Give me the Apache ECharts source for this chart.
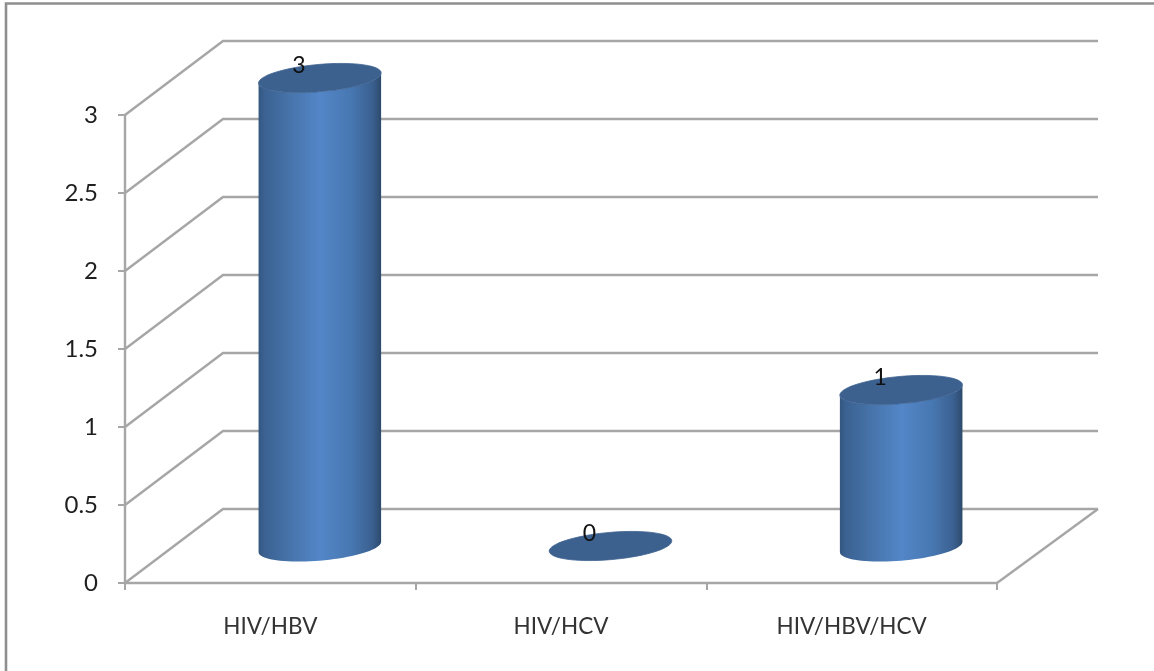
<!DOCTYPE html>
<html>
<head>
<meta charset="utf-8">
<style>
html,body{margin:0;padding:0;background:#fff}
#chart{width:1154px;height:671px}
</style>
<script src="https://cdn.jsdelivr.net/npm/echarts@6/dist/echarts.min.js"></script>
</head>
<body>
<div id="chart"></div>
<script>
// Co-infection counts shown as a pseudo-3D cylinder chart.
const categories = ['HIV/HBV', 'HIV/HCV', 'HIV/HBV/HCV'];
const counts = [3, 0, 1];
const valueTicks = [0, 0.5, 1, 1.5, 2, 2.5, 3];

// Receding depth of the chart box, in pixels.
const DEPTH_X = 98;
const DEPTH_Y = -74;
const BACK_RIGHT_EXTRA = 3;
const ELLIPSE_RX = 61.5;
const ELLIPSE_RY = 13.6;
const TILT = -5 * Math.PI / 180;

const GRID_COLOR = '#a6a6a6';
const FONT = 'Lato, "Open Sans", sans-serif';

// Point on a tilted ellipse around (cx, cy).
function ellipsePoint(cx, cy, t) {
  const x = ELLIPSE_RX * Math.cos(t);
  const y = ELLIPSE_RY * Math.sin(t);
  return [cx + x * Math.cos(TILT) - y * Math.sin(TILT),
          cy + x * Math.sin(TILT) + y * Math.cos(TILT)];
}

function ellipseArc(cx, cy, from, to, steps) {
  const pts = [];
  for (let i = 0; i <= steps; i++) {
    pts.push(ellipsePoint(cx, cy, from + (to - from) * i / steps));
  }
  return pts;
}

function renderWall(params, api) {
  const y = api.coord([0, api.value(0)])[1];
  const left = params.coordSys.x;
  const right = left + params.coordSys.width;
  const backRight = right + DEPTH_X + BACK_RIGHT_EXTRA;
  const style = { stroke: GRID_COLOR, lineWidth: 2.4, fill: null };
  const children = [{
    type: 'polyline',
    shape: { points: [[left, y], [left + DEPTH_X, y + DEPTH_Y], [backRight, y + DEPTH_Y]] },
    style
  }];
  // The floor closes along its right-hand edge.
  if (api.value(0) === 0) {
    children.push({
      type: 'line',
      shape: { x1: right, y1: y, x2: backRight, y2: y + DEPTH_Y },
      style
    });
  }
  return { type: 'group', children };
}

function renderCylinder(params, api) {
  const idx = api.value(0);
  const val = api.value(1);
  const top = api.coord([idx, val]);
  const base = api.coord([idx, 0]);
  const cx = top[0] + DEPTH_X / 2 + 0.5;
  const topY = top[1] + DEPTH_Y / 2;
  const baseY = base[1] + DEPTH_Y / 2 + 1;
  const children = [];
  if (val > 0) {
    // Tangent points of the silhouette on the left and right of the ellipse.
    const t0 = Math.atan2(-ELLIPSE_RY * Math.sin(TILT), ELLIPSE_RX * Math.cos(TILT));
    const upper = ellipseArc(cx, topY, t0, t0 + Math.PI, 40);
    const lower = ellipseArc(cx, baseY, t0 + Math.PI, t0, 40);
    children.push({
      type: 'polygon',
      shape: { points: upper.concat(lower) },
      style: {
        fill: new echarts.graphic.LinearGradient(0, 0, 1, 0, [
          { offset: 0, color: '#34577f' },
          { offset: 0.05, color: '#3b6292' },
          { offset: 0.25, color: '#4673a9' },
          { offset: 0.5, color: '#5386c8' },
          { offset: 0.75, color: '#4878b2' },
          { offset: 0.93, color: '#3a6090' },
          { offset: 1, color: '#2d4a6c' }
        ])
      }
    });
  }
  children.push({
    type: 'polygon',
    shape: { points: ellipseArc(cx, topY, 0, Math.PI * 2, 80) },
    style: { fill: '#3c618f', stroke: '#3c618f', lineWidth: 0.8 }
  });
  children.push({
    type: 'text',
    x: cx - 21,
    y: topY - 12,
    style: {
      text: String(val),
      fill: '#111111',
      font: '23px ' + FONT,
      align: 'center',
      verticalAlign: 'middle'
    }
  });
  return { type: 'group', children };
}

const chart = echarts.init(document.getElementById('chart'), null, { renderer: 'canvas' });

chart.setOption({
  animation: false,
  backgroundColor: '#ffffff',
  graphic: [{
    // Outer frame of the chart area, open on the right and at the bottom.
    type: 'polyline',
    silent: true,
    shape: { points: [[6, 671], [6, 3.5], [1154, 3.5]] },
    style: { stroke: '#8f8f8f', lineWidth: 2.6, fill: null }
  }],
  grid: { left: 125, top: 115, width: 872, height: 468, containLabel: false },
  xAxis: {
    type: 'category',
    data: categories,
    boundaryGap: true,
    axisLine: { lineStyle: { color: GRID_COLOR, width: 2.4 } },
    axisTick: { show: true, length: 7, alignWithLabel: false, lineStyle: { color: GRID_COLOR, width: 2 } },
    axisLabel: { color: '#333333', fontFamily: FONT, fontSize: 22.5, margin: 32, interval: 0 },
    splitLine: { show: false }
  },
  yAxis: {
    type: 'value',
    min: 0,
    max: 3,
    interval: 0.5,
    axisLine: { show: true, lineStyle: { color: GRID_COLOR, width: 2.4 } },
    axisTick: { show: true, length: 7, lineStyle: { color: GRID_COLOR, width: 2 } },
    axisLabel: { color: '#1f1f1f', fontFamily: FONT, fontSize: 24, margin: 27, padding: [10, 0, 0, 0] },
    splitLine: { show: false }
  },
  series: [
    {
      type: 'custom',
      name: 'wall',
      coordinateSystem: 'cartesian2d',
      clip: false,
      silent: true,
      z: 1,
      encode: { y: 0 },
      data: valueTicks.map(v => [v]),
      renderItem: renderWall
    },
    {
      type: 'custom',
      name: 'cases',
      coordinateSystem: 'cartesian2d',
      clip: false,
      z: 3,
      encode: { x: 0, y: 1 },
      data: counts.map((v, i) => [i, v]),
      renderItem: renderCylinder
    }
  ]
});
</script>
</body>
</html>
